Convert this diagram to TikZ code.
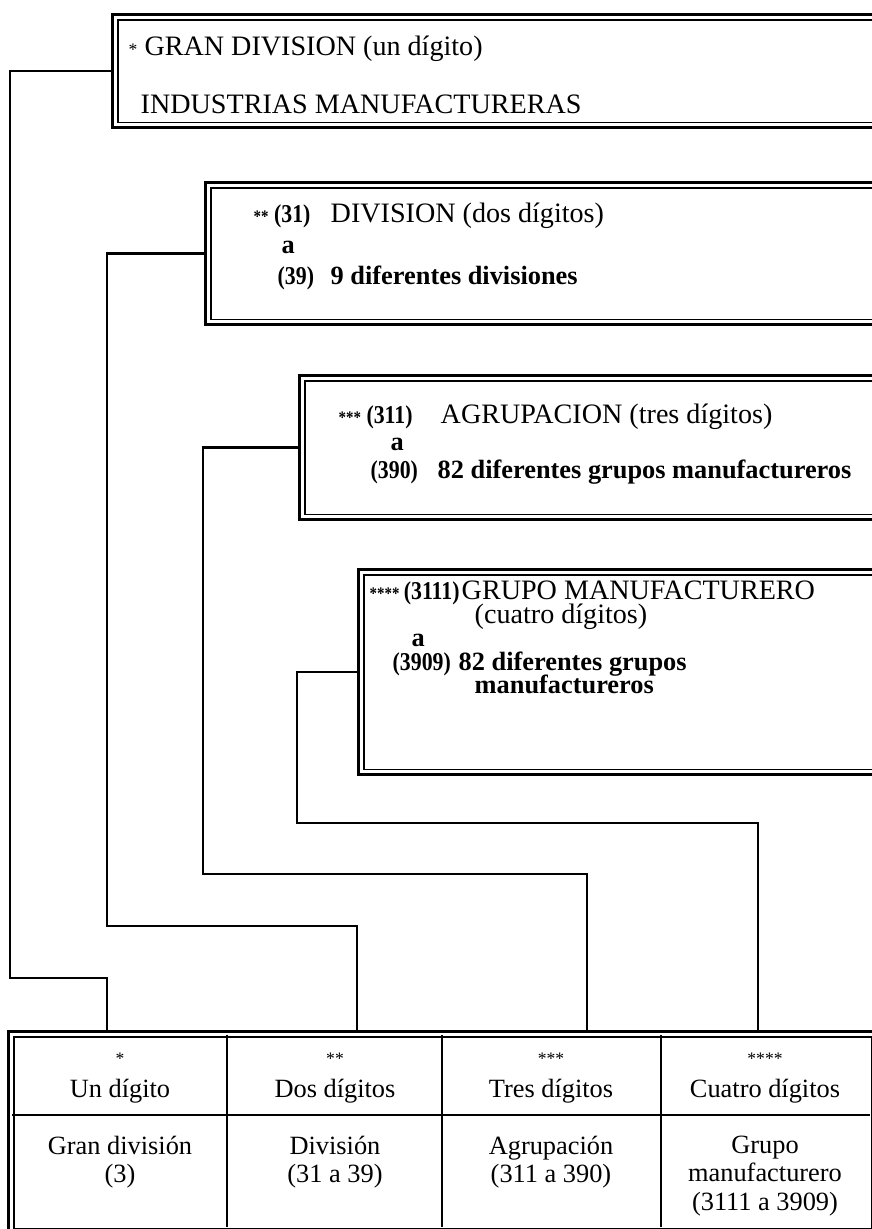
\documentclass[tikz,border=0pt]{standalone}
\usepackage{fontspec}
\setmainfont{Liberation Serif}
\newfontfamily\codefont[FakeStretch=0.85]{Liberation Serif}
\usetikzlibrary{positioning}
\newcommand\astr[1]{{\fontsize{5}{5}\selectfont #1}}

\begin{document}
\begin{tikzpicture}[
    x=0.1mm, y=-0.1mm,
    panel/.style={draw, line width=0.9pt, anchor=north west, inner sep=0pt,
                  path picture={\draw[line width=0.45pt]
                    ([shift={(1.5pt,-1.5pt)}]path picture bounding box.north west) rectangle
                    ([shift={(-1.5pt,1.5pt)}]path picture bounding box.south east);}},
    wire/.style={line width=0.7pt},
    rule/.style={line width=0.6pt},
    txt/.style={anchor=west, inner sep=0pt, font=\fontsize{8}{9}\selectfont,
                text height=1.5ex, text depth=.25ex},
    btxt/.style={txt, font=\fontsize{7.5}{9}\selectfont\bfseries},
    ctxt/.style={txt, font=\fontsize{7.3}{9}\selectfont\codefont\bfseries},
    head/.style={align=center, inner sep=0pt, font=\fontsize{7.5}{9.5}\selectfont},
    body/.style={align=center, inner sep=0pt, anchor=north, font=\fontsize{7.5}{8.2}\selectfont},
  ]
    \useasboundingbox (0,0) rectangle (871,1229);

    % the four levels
    \node[panel, minimum width=78.9mm, minimum height=11.3mm] (gdiv) at (111,13) {};
    \node[panel, minimum width=69.6mm, minimum height=14.2mm] (div) at (204,181) {};
    \node[panel, minimum width=60.2mm, minimum height=14.4mm] (agr) at (298,374) {};
    \node[panel, minimum width=54.3mm, minimum height=20.5mm] (grp) at (357,568) {};

    \node[txt] (gdiv1) at (128,45) {\astr{*} GRAN DIVISION (un dígito)};
    \node[txt] (gdiv2) at (140,103) {INDUSTRIAS MANUFACTURERAS};

    \node[ctxt] (div1) at (253,212) {\astr{**} (31)};
    \node[txt] (div2) at (330,212) {DIVISION (dos dígitos)};
    \node[btxt] (div3) at (281,243) {a};
    \node[ctxt] (div4) at (277,274) {(39)};
    \node[btxt] (div5) at (330,274) {9 diferentes divisiones};

    \node[ctxt] (agr1) at (338,413) {\astr{***} (311)};
    \node[txt] (agr2) at (440,413) {AGRUPACION (tres dígitos)};
    \node[btxt] (agr3) at (390,440) {a};
    \node[ctxt] (agr4) at (370,468) {(390)};
    \node[btxt] (agr5) at (437,468) {82 diferentes grupos manufactureros};

    \node[ctxt] (grp1) at (369,589) {\astr{****}\,(3111)};
    \node[txt] (grp2) at (461,589) {GRUPO MANUFACTURERO};
    \node[txt] (grp3) at (474,613) {(cuatro dígitos)};
    \node[btxt] (grp4) at (411,636) {a};
    \node[ctxt] (grp5) at (392,660) {(3909)};
    \node[btxt] (grp6) at (458,660) {82 diferentes grupos};
    \node[btxt] (grp7) at (474,683) {manufactureros};

    % summary table
    \node[panel, minimum width=86.8mm, minimum height=20.2mm] (tab) at (7,1030) {};
    \draw[rule] (12,1115) -- (870,1115);
    \foreach \cx in {227,442,661}
      \draw[rule] (\cx,1035) -- (\cx,1227);

    \node[head] (h1) at (120,1078) {\astr{*}\\Un dígito};
    \node[head] (h2) at (335,1078) {\astr{**}\\Dos dígitos};
    \node[head] (h3) at (551,1078) {\astr{***}\\Tres dígitos};
    \node[head] (h4) at (765,1078) {\astr{****}\\Cuatro dígitos};

    \node[body] (d1) at (120,1135) {Gran división\\(3)};
    \node[body] (d2) at (335,1135) {División\\(31 a 39)};
    \node[body] (d3) at (551,1135) {Agrupación\\(311 a 390)};
    \node[body] (d4) at (765,1135) {Grupo\\manufacturero\\(3111 a 3909)};

    % links down to the table
    \draw[wire] (gdiv.west) -| (10,978) -| (107,0 |- tab.north);
    \draw[wire] (div.west) -| (107,926) -| (357,0 |- tab.north);
    \draw[wire] (agr.west) -| (203,874) -| (587,0 |- tab.north);
    \draw[wire] (grp.west) -| (297,823) -| (758,0 |- tab.north);
  \end{tikzpicture}
\end{document}
